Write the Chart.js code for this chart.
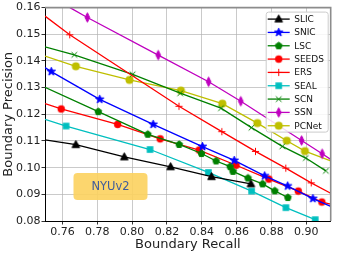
<!DOCTYPE html>
<html>
<head>
<meta charset="utf-8">
<script src="https://cdn.jsdelivr.net/npm/chart.js@4.4.1/dist/chart.umd.min.js"></script>
<style>
  html, body { margin: 0; padding: 0; background: #fff; }
  #wrap { width: 338px; height: 254px; }
</style>
</head>
<body>
<div id="wrap"><canvas id="chart"></canvas></div>
<script>
// series, in legend order
const methods = ['SLIC', 'SNIC', 'LSC', 'SEEDS', 'ERS', 'SEAL', 'SCN', 'SSN', 'PCNet'];
const colors = ['#000000', '#0000ff', '#008000', '#ff0000', '#ff0000', '#00bfbf', '#008000', '#bf00bf', '#bfbf00'];
const markers = ['triangle', 'star', 'pentagon', 'circle', 'plus', 'square', 'x', 'thinDiamond', 'bigCircle'];

// marked points (recall, precision)
const slicRecall = [0.7677, 0.7955, 0.8221, 0.8456, 0.8682];
const slicPrecision = [0.1086, 0.1040, 0.1003, 0.0966, 0.0939];
const snicRecall = [0.7536, 0.7814, 0.8121, 0.8404, 0.8586, 0.8761, 0.8893, 0.9038];
const snicPrecision = [0.1360, 0.1256, 0.1162, 0.1079, 0.1027, 0.0969, 0.0931, 0.0884];
const lscRecall = [0.7806, 0.8090, 0.8270, 0.8398, 0.8482, 0.8563, 0.8579, 0.8665, 0.8749, 0.8819, 0.8894];
const lscPrecision = [0.1210, 0.1125, 0.1087, 0.1053, 0.1025, 0.1004, 0.0986, 0.0961, 0.0939, 0.0913, 0.0888];
const seedsRecall = [0.7593, 0.7917, 0.8161, 0.8385, 0.8597, 0.8785, 0.8954, 0.9089];
const seedsPrecision = [0.1220, 0.1162, 0.1108, 0.1066, 0.1009, 0.0957, 0.0912, 0.0871];
const ersRecall = [0.7642, 0.8269, 0.8515, 0.8708, 0.8882, 0.9028];
const ersPrecision = [0.1498, 0.1230, 0.1135, 0.1061, 0.0998, 0.0943];
const sealRecall = [0.7621, 0.8103, 0.8438, 0.8686, 0.8883, 0.9051];
const sealPrecision = [0.1156, 0.1068, 0.0982, 0.0912, 0.0850, 0.0805];
const scnRecall = [0.7668, 0.8003, 0.8276, 0.8510, 0.8685, 0.8862, 0.8997, 0.9112];
const scnPrecision = [0.1423, 0.1350, 0.1279, 0.1223, 0.1150, 0.1080, 0.1036, 0.0988];
const ssnRecall = [0.7743, 0.8150, 0.8439, 0.8624, 0.8973, 0.9091];
const ssnPrecision = [0.1563, 0.1422, 0.1322, 0.1249, 0.1102, 0.1052];
const pcnetRecall = [0.7677, 0.7985, 0.8280, 0.8518, 0.8719, 0.8888, 0.8992];
const pcnetPrecision = [0.1380, 0.1329, 0.1289, 0.1240, 0.1167, 0.1101, 0.1062];

// the curves run on past the marks to the frame
const lineStartX = [0.75, 0.75, 0.75, 0.75, 0.75, 0.75, 0.75, 0.7643, 0.75];
const lineStartY = [0.1104, 0.1375, 0.1301, 0.1240, 0.1568, 0.1181, 0.1453, 0.1600, 0.1418];
const lineEndX = [null, 0.914, null, 0.914, 0.914, null, null, 0.914, 0.914];
const lineEndY = [null, 0.0855, null, 0.0863, 0.0904, null, null, 0.1031, 0.1025];

const xTicks = [0.76, 0.78, 0.80, 0.82, 0.84, 0.86, 0.88, 0.90];
const yTicks = [0.08, 0.09, 0.10, 0.11, 0.12, 0.13, 0.14, 0.15, 0.16];

const recalls = [slicRecall, snicRecall, lscRecall, seedsRecall, ersRecall, sealRecall, scnRecall, ssnRecall, pcnetRecall];
const precisions = [slicPrecision, snicPrecision, lscPrecision, seedsPrecision, ersPrecision, sealPrecision, scnPrecision, ssnPrecision, pcnetPrecision];

const FONT = 'DejaVu Sans';

// matplotlib-like marker glyphs
function makeMarker(kind, color) {
  const s = 13, m = s / 2;
  const c = document.createElement('canvas');
  c.width = s; c.height = s;
  const g = c.getContext('2d');
  g.fillStyle = color;
  g.strokeStyle = color;
  g.lineWidth = 1;
  g.beginPath();
  const poly = (pts) => {
    pts.forEach(([x, y], i) => i ? g.lineTo(m + x, m + y) : g.moveTo(m + x, m + y));
    g.closePath(); g.fill(); g.stroke();
  };
  const ring = (n, r, r2) => {
    const pts = [];
    const k = r2 ? 2 * n : n;
    for (let i = 0; i < k; i++) {
      const rr = r2 && i % 2 ? r2 : r;
      const a = -Math.PI / 2 + i * 2 * Math.PI / k;
      pts.push([rr * Math.cos(a), rr * Math.sin(a)]);
    }
    return pts;
  };
  switch (kind) {
    case 'triangle': poly([[0, -4.2], [3.8, 2.8], [-3.8, 2.8]]); break;
    case 'star': poly(ring(5, 4.4, 1.8)); break;
    case 'pentagon': poly(ring(5, 3.6)); break;
    case 'circle': g.arc(m, m, 3.7, 0, 2 * Math.PI); g.fill(); break;
    case 'bigCircle': g.arc(m, m, 4, 0, 2 * Math.PI); g.fill(); break;
    case 'square': g.fillRect(m - 3.3, m - 3.3, 6.6, 6.6); break;
    case 'thinDiamond': poly([[0, -4.8], [2.3, 0], [0, 4.8], [-2.3, 0]]); break;
    case 'plus':
      g.moveTo(m - 3.6, m); g.lineTo(m + 3.6, m);
      g.moveTo(m, m - 3.6); g.lineTo(m, m + 3.6);
      g.stroke(); break;
    case 'x':
      g.moveTo(m - 2.8, m - 2.8); g.lineTo(m + 2.8, m + 2.8);
      g.moveTo(m + 2.8, m - 2.8); g.lineTo(m - 2.8, m + 2.8);
      g.stroke(); break;
  }
  return c;
}

const glyphs = markers.map((k, i) => makeMarker(k, colors[i]));

const datasets = methods.map((name, i) => {
  const pts = recalls[i].map((x, j) => ({ x: x, y: precisions[i][j] }));
  const radius = pts.map(() => 6);
  if (lineStartX[i] !== null) { pts.unshift({ x: lineStartX[i], y: lineStartY[i] }); radius.unshift(0); }
  if (lineEndX[i] !== null) { pts.push({ x: lineEndX[i], y: lineEndY[i] }); radius.push(0); }
  return {
    label: name,
    data: pts,
    showLine: true,
    borderColor: colors[i],
    backgroundColor: colors[i],
    borderWidth: 1.3,
    pointStyle: glyphs[i],
    pointRadius: radius,
    pointHoverRadius: radius,
  };
});

// top/right spines, legend box and the NYUv2 tag
const decorations = {
  id: 'decorations',
  afterDatasetsDraw(chart) {
    const { ctx, chartArea: a, scales } = chart;
    ctx.save();

    ctx.strokeStyle = '#8c8c8c';
    ctx.lineWidth = 1.6;
    ctx.beginPath();
    ctx.moveTo(a.left, a.top); ctx.lineTo(a.right, a.top); ctx.lineTo(a.right, a.bottom);
    ctx.stroke();

    // dataset label
    const cx = scales.x.getPixelForValue(0.7876);
    const cy = scales.y.getPixelForValue(0.0929);
    ctx.fillStyle = 'rgba(252, 210, 98, 0.92)';
    ctx.beginPath();
    ctx.roundRect(cx - 37, cy - 13.5, 74, 27, 4);
    ctx.fill();
    ctx.fillStyle = '#3f5c9c';
    ctx.font = '11.5px "' + FONT + '"';
    ctx.textAlign = 'center';
    ctx.textBaseline = 'middle';
    ctx.fillText('NYUv2', cx, cy + 0.5);

    // legend
    const bx = a.right - 64.5, by = a.top + 4.5, bw = 62, bh = 120;
    ctx.fillStyle = 'rgba(255,255,255,0.85)';
    ctx.strokeStyle = '#cccccc';
    ctx.lineWidth = 1;
    ctx.beginPath();
    ctx.roundRect(bx, by, bw, bh, 2.5);
    ctx.fill(); ctx.stroke();

    ctx.font = '9px "' + FONT + '"';
    ctx.textAlign = 'left';
    methods.forEach((name, i) => {
      const y = by + 7 + i * 13.33;
      ctx.strokeStyle = colors[i];
      ctx.lineWidth = 1.3;
      ctx.beginPath();
      ctx.moveTo(bx + 1.5, y); ctx.lineTo(bx + 23.5, y);
      ctx.stroke();
      ctx.drawImage(glyphs[i], bx + 12.5 - 6.5, y - 6.5);
      ctx.fillStyle = '#111';
      ctx.fillText(name, bx + 28, y + 0.5);
    });
    ctx.restore();
  }
};

new Chart(document.getElementById('chart'), {
  type: 'scatter',
  data: { datasets: datasets },
  options: {
    responsive: true,
    maintainAspectRatio: false,
    animation: false,
    layout: { padding: { top: 4, right: 2, left: 0, bottom: 0 } },
    plugins: { legend: { display: false }, tooltip: { enabled: false } },
    scales: {
      x: {
        type: 'linear',
        min: 0.75,
        max: 0.914,
        afterFit: (scale) => { scale.height = 33; },
        afterBuildTicks: (scale) => { scale.ticks = xTicks.map(v => ({ value: v })); },
        ticks: {
          color: '#222',
          padding: 1,
          font: { family: FONT, size: 11 },
          callback: (v) => v.toFixed(2),
        },
        grid: {
          color: 'rgba(176,176,176,0.85)',
          lineWidth: 0.8,
          borderDash: [5, 2, 1, 2],
          tickColor: '#000',
          tickLength: 3.5,
          tickWidth: 0.8,
          tickBorderDash: [],
        },
        border: { color: '#000', width: 1 },
        title: {
          display: true,
          text: 'Boundary Recall',
          color: '#222',
          font: { family: FONT, size: 13 },
          padding: { top: 0, bottom: 1.5 },
        },
      },
      y: {
        type: 'linear',
        min: 0.08,
        max: 0.16,
        afterFit: (scale) => { scale.width = 45; },
        afterBuildTicks: (scale) => { scale.ticks = yTicks.map(v => ({ value: v })); },
        ticks: {
          color: '#222',
          padding: 1,
          font: { family: FONT, size: 11 },
          callback: (v) => v.toFixed(2),
        },
        grid: {
          color: 'rgba(176,176,176,0.85)',
          lineWidth: 0.8,
          borderDash: [5, 2, 1, 2],
          tickColor: '#000',
          tickLength: 3.5,
          tickWidth: 0.8,
          tickBorderDash: [],
        },
        border: { color: '#000', width: 1 },
        title: {
          display: true,
          text: 'Boundary Precision',
          color: '#222',
          font: { family: FONT, size: 13 },
          padding: { top: 1, bottom: 0 },
        },
      },
    },
  },
  plugins: [decorations],
});
</script>
</body>
</html>
